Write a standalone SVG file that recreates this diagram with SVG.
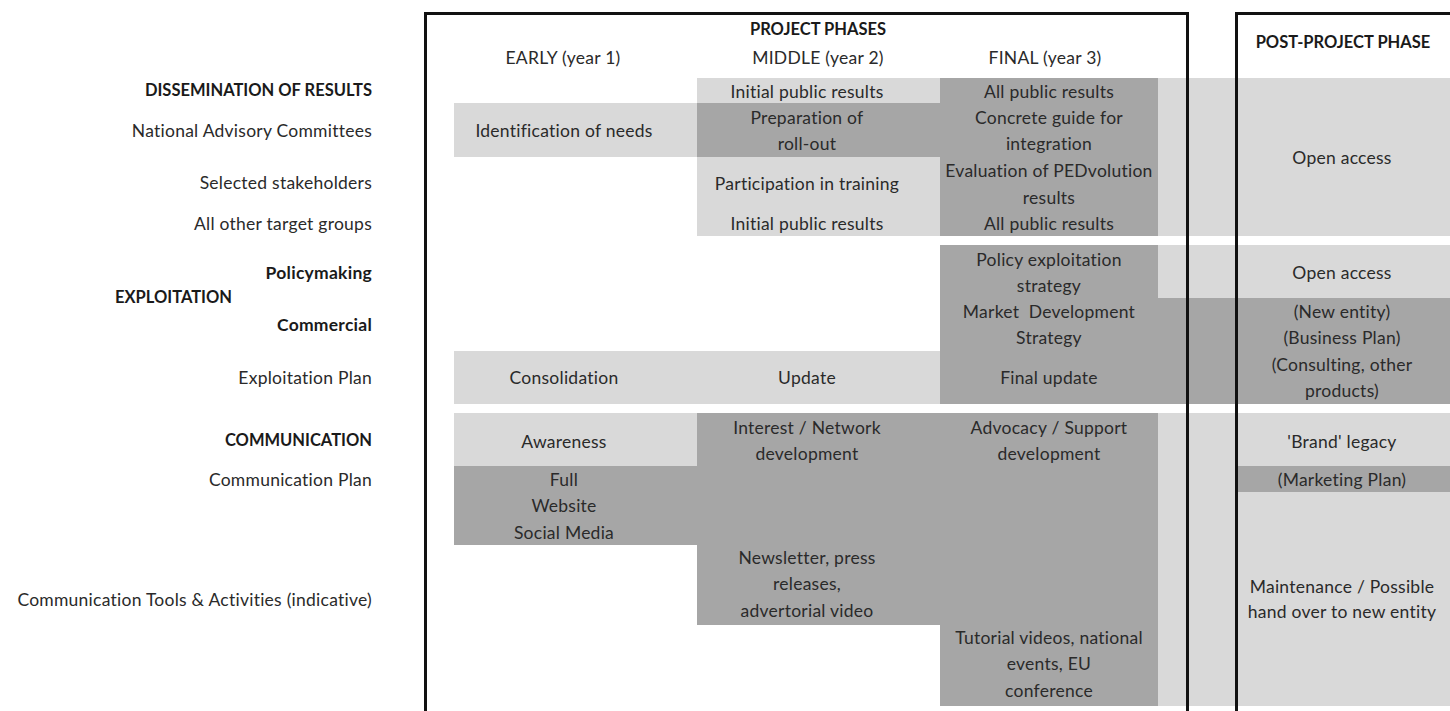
<svg xmlns="http://www.w3.org/2000/svg" width="1450" height="711" viewBox="0 0 1450 711">
<style>
text{font-family:Lato,"Liberation Sans",sans-serif;font-size:17.5px;letter-spacing:0.25px;fill:#2a2a2a;dominant-baseline:central}
.c{text-anchor:middle}
.r{text-anchor:end}
.b{font-weight:bold;fill:#1a1a1a}
.bc{font-weight:bold;font-size:16.5px;letter-spacing:0;fill:#1a1a1a}
.lt{fill:#d9d9d9}
.dk{fill:#a6a6a6}
.frame{fill:none;stroke:#111;stroke-width:3}
</style>
<rect width="1450" height="711" fill="#fff"/>

<g id="labels">
<text class="r bc" x="372" y="90">DISSEMINATION OF RESULTS</text>
<text class="r" x="372" y="130">National Advisory Committees</text>
<text class="r" x="372" y="182">Selected stakeholders</text>
<text class="r" x="372" y="223">All other target groups</text>
<text class="r b" x="372" y="272">Policymaking</text>
<text class="bc" x="115" y="297">EXPLOITATION</text>
<text class="r b" x="372" y="324">Commercial</text>
<text class="r" x="372" y="377">Exploitation Plan</text>
<text class="r bc" x="372" y="440">COMMUNICATION</text>
<text class="r" x="372" y="479">Communication Plan</text>
<text class="r" x="372" y="599">Communication Tools &amp; Activities (indicative)</text>
</g>

<g id="headers">
<text class="c bc" x="818" y="29">PROJECT PHASES</text>
<text class="c" x="563" y="57">EARLY (year 1)</text>
<text class="c" x="818" y="57">MIDDLE (year 2)</text>
<text class="c" x="1045" y="57">FINAL (year 3)</text>
<text class="c bc" x="1343" y="42">POST-PROJECT PHASE</text>
</g>

<g id="dissemination">
<rect class="lt" x="697" y="78" width="243" height="25"/>
<rect class="lt" x="454" y="103" width="243" height="54"/>
<rect class="dk" x="697" y="103" width="243" height="54"/>
<rect class="lt" x="697" y="157" width="243" height="79"/>
<rect class="dk" x="940" y="78" width="218" height="158"/>
<rect class="lt" x="1158" y="78" width="292" height="158"/>
<text class="c" x="807" y="91">Initial public results</text>
<text class="c" x="564" y="130">Identification of needs</text>
<text class="c" x="807" y="117">Preparation of</text>
<text class="c" x="807" y="143">roll-out</text>
<text class="c" x="807" y="183">Participation in training</text>
<text class="c" x="807" y="223">Initial public results</text>
<text class="c" x="1049" y="91">All public results</text>
<text class="c" x="1049" y="117">Concrete guide for</text>
<text class="c" x="1049" y="143">integration</text>
<text class="c" x="1049" y="170">Evaluation of PEDvolution</text>
<text class="c" x="1049" y="197">results</text>
<text class="c" x="1049" y="223">All public results</text>
<text class="c" x="1342" y="157">Open access</text>
</g>

<g id="exploitation">
<rect class="dk" x="940" y="245" width="218" height="53"/>
<rect class="lt" x="1158" y="245" width="292" height="53"/>
<rect class="dk" x="940" y="298" width="510" height="106"/>
<rect class="lt" x="454" y="351" width="486" height="53"/>
<text class="c" x="1049" y="259">Policy exploitation</text>
<text class="c" x="1049" y="285">strategy</text>
<text class="c" x="1342" y="272">Open access</text>
<text class="c" x="1049" y="311" xml:space="preserve">Market  Development</text>
<text class="c" x="1049" y="337">Strategy</text>
<text class="c" x="1342" y="311">(New entity)</text>
<text class="c" x="1342" y="337">(Business Plan)</text>
<text class="c" x="564" y="377">Consolidation</text>
<text class="c" x="807" y="377">Update</text>
<text class="c" x="1049" y="377">Final update</text>
<text class="c" x="1342" y="364">(Consulting, other</text>
<text class="c" x="1342" y="390">products)</text>
</g>

<g id="communication">
<rect class="lt" x="454" y="413" width="243" height="53"/>
<rect class="dk" x="697" y="413" width="461" height="53"/>
<rect class="dk" x="454" y="466" width="704" height="79"/>
<rect class="dk" x="697" y="545" width="461" height="80"/>
<rect class="dk" x="940" y="625" width="218" height="81"/>
<rect class="lt" x="1158" y="413" width="292" height="293"/>
<rect class="dk" x="1237" y="466" width="213" height="26"/>
<text class="c" x="564" y="441">Awareness</text>
<text class="c" x="807" y="427">Interest / Network</text>
<text class="c" x="807" y="453">development</text>
<text class="c" x="1049" y="427">Advocacy / Support</text>
<text class="c" x="1049" y="453">development</text>
<text class="c" x="1342" y="441">'Brand' legacy</text>
<text class="c" x="564" y="479">Full</text>
<text class="c" x="564" y="505">Website</text>
<text class="c" x="564" y="532">Social Media</text>
<text class="c" x="1342" y="479">(Marketing Plan)</text>
<text class="c" x="807" y="557">Newsletter, press</text>
<text class="c" x="807" y="583">releases,</text>
<text class="c" x="807" y="610">advertorial video</text>
<text class="c" x="1049" y="637">Tutorial videos, national</text>
<text class="c" x="1049" y="663">events, EU</text>
<text class="c" x="1049" y="690">conference</text>
<text class="c" x="1342" y="586">Maintenance / Possible</text>
<text class="c" x="1342" y="611">hand over to new entity</text>
</g>

<g id="frames">
<path class="frame" d="M425.5,711 V13.5 H1187.5 V711"/>
<path class="frame" d="M1236.5,711 V13.5 H1452"/>
</g>
</svg>
